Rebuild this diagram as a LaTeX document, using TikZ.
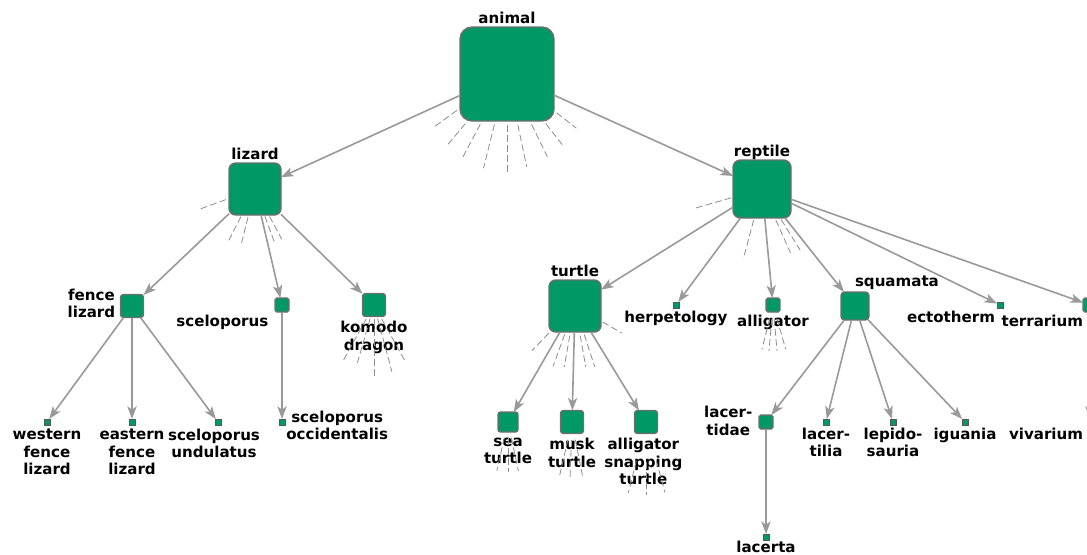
\documentclass[tikz,border=0pt]{standalone}
\usepackage{fontspec}
\setmainfont{DejaVu Sans}
\usetikzlibrary{arrows.meta,positioning,calc}
\definecolor{tgreen}{HTML}{009865}
\definecolor{tedge}{HTML}{999999}
\definecolor{tborder}{HTML}{6E6E6E}
\definecolor{tstub}{HTML}{8C8C8C}

\tikzset{
  cbox/.style={draw=tborder, line width=1.1pt, fill=tgreen, minimum size=#1,
    inner sep=0pt, outer sep=0pt, rounded corners=0.13*#1},
  leaf/.style={draw=tborder!80!black, line width=0.6pt, fill=tgreen,
    minimum size=4.5pt, inner sep=0pt, outer sep=0pt},
  lbl/.style={font=\fontsize{11.3pt}{13.1pt}\selectfont\bfseries, inner sep=0pt,
    outer sep=0pt, align=center, execute at begin node=\strut,
    execute at end node=\strut},
  link/.style={draw=tedge, line width=1.2pt,
    -{Stealth[length=9.5pt,width=7pt,inset=2.5pt]}},
  stub/.style={draw=tstub, line width=0.6pt, dash pattern=on 5pt off 2.5pt},
}

\begin{document}
\begin{tikzpicture}[x=0.75pt, y=-0.75pt]
\useasboundingbox (0,0) rectangle (1087,554);
% boxes (size = weight)
\node[cbox=70.5pt] (animal) at (507,74) {};
\node[cbox=39pt] (lizard) at (255,189) {};
\node[cbox=43.5pt] (reptile) at (762,189) {};
\node[cbox=17.25pt] (fencelizard) at (132,306) {};
\node[cbox=10.5pt] (sceloporus) at (282,305) {};
\node[cbox=17.25pt] (komodo) at (374,305) {};
\node[leaf] (western) at (47,422) {};
\node[leaf] (eastern) at (132,422) {};
\node[leaf] (undulatus) at (218,422) {};
\node[leaf] (occidentalis) at (282,422) {};
\node[cbox=39pt] (turtle) at (575,306) {};
\node[leaf] (herpetology) at (676,305) {};
\node[cbox=10.5pt] (alligator) at (773,305) {};
\node[cbox=21pt] (squamata) at (855,306) {};
\node[leaf] (ectotherm) at (1000,305) {};
\node[cbox=10.5pt] (terrarium) at (1090,305) {};
\node[leaf] (vivarium) at (1090,422) {};
\node[cbox=15pt] (seaturtle) at (508,422) {};
\node[cbox=17.25pt] (muskturtle) at (572,422) {};
\node[cbox=17.25pt] (snapping) at (646,422) {};
\node[cbox=10.5pt] (lacertidae) at (766,422) {};
\node[leaf] (lacertilia) at (826,422) {};
\node[leaf] (lepidosauria) at (893,422) {};
\node[leaf] (iguania) at (965,422) {};
\node[leaf] (lacerta) at (766,537) {};

% labels
\node[lbl, above=-1pt of animal] (animal-t) {animal};
\node[lbl, above=-1pt of lizard] (lizard-t) {lizard};
\node[lbl, above=-1pt of reptile] (reptile-t) {reptile};
\node[lbl, above=-1pt of turtle] (turtle-t) {turtle};
\node[lbl, left=4pt of fencelizard] (fencelizard-t) {fence\\lizard};
\node[lbl, below left=1.5pt and 5pt of sceloporus] (sceloporus-t) {sceloporus};
\node[lbl, below=3.5pt of komodo] (komodo-t) {komodo\\dragon};
\node[lbl, below=3pt of western] (western-t) {western\\fence\\lizard};
\node[lbl, below=3pt of eastern] (eastern-t) {eastern\\fence\\lizard};
\node[lbl, below=3pt of undulatus, xshift=-3pt] (undulatus-t) {sceloporus\\undulatus};
\node[lbl, right=1pt of occidentalis, yshift=-4.5pt] (occidentalis-t) {sceloporus\\occidentalis};
\node[lbl, below=2pt of herpetology] (herpetology-t) {herpetology};
\node[lbl, below=2pt of alligator] (alligator-t) {alligator};
\node[lbl, anchor=south west] (squamata-t) at (squamata.north) {squamata};
\node[lbl, below left=1.5pt and 1.5pt of ectotherm] (ectotherm-t) {ectotherm};
\node[lbl, below left=1.5pt and 0pt of terrarium] (terrarium-t) {terrarium};
\node[lbl, below left=1.5pt and 3pt of vivarium] (vivarium-t) {vivarium};
\node[lbl, below=4.5pt of seaturtle] (seaturtle-t) {sea\\turtle};
\node[lbl, below=3.5pt of muskturtle] (muskturtle-t) {musk\\turtle};
\node[lbl, below=3.5pt of snapping, xshift=-2pt] (snapping-t) {alligator\\snapping\\turtle};
\node[lbl, left=5pt of lacertidae, yshift=-1pt] (lacertidae-t) {lacer-\\tidae};
\node[lbl, below=2pt of lacertilia] (lacertilia-t) {lacer-\\tilia};
\node[lbl, below=2pt of lepidosauria] (lepidosauria-t) {lepido-\\sauria};
\node[lbl, below=2pt of iguania] (iguania-t) {iguania};
\node[lbl, below=0pt of lacerta] (lacerta-t) {lacerta};

% links
\draw[link] (animal) -- (lizard);
\draw[link] (animal) -- (reptile);
\draw[link] (lizard) -- (fencelizard);
\draw[link] (lizard) -- (sceloporus);
\draw[link] (lizard) -- (komodo);
\draw[link] (fencelizard) -- (western);
\draw[link] (fencelizard) -- (eastern);
\draw[link] (fencelizard) -- (undulatus);
\draw[link] (sceloporus) -- (occidentalis);
\draw[link] (reptile) -- (turtle);
\draw[link] (reptile) -- (herpetology);
\draw[link] (reptile) -- (alligator);
\draw[link] (reptile) -- (squamata);
\draw[link] (reptile) -- (ectotherm);
\draw[link] (reptile) -- (terrarium);
\draw[link] (terrarium) -- (vivarium);
\draw[link] (turtle) -- (seaturtle);
\draw[link] (turtle) -- (muskturtle);
\draw[link] (turtle) -- (snapping);
\draw[link] (squamata) -- (lacertidae);
\draw[link] (squamata) -- (lacertilia);
\draw[link] (squamata) -- (lepidosauria);
\draw[link] (squamata) -- (iguania);
\draw[link] (lacertidae) -- (lacerta);

% hidden children (angle/inner/outer)
\foreach \a/\r/\R in {38/63/88,52/63/90,64/56/92,78/52/95,90/51/99,104/52/97,118/57/94,130/65/93,144/62/91}
  \draw[stub] ($(animal)+(\a:\r)$) -- ($(animal)+(\a:\R)$);
\foreach \a/\r/\R in {160/31/61,117/31/59,104/29/59,70/29/58,62/31/57}
  \draw[stub] ($(lizard)+(\a:\r)$) -- ($(lizard)+(\a:\R)$);
\foreach \a/\r/\R in {164/32/70,105/32/72,66/34/70,58/36/72}
  \draw[stub] ($(reptile)+(\a:\r)$) -- ($(reptile)+(\a:\R)$);
\foreach \a/\r/\R in {61/16/63,75/14/69,90/14/72,106/14/60,119/16/63}
  \draw[stub] ($(komodo)+(\a:\r)$) -- ($(komodo)+(\a:\R)$);
\foreach \a/\r/\R in {104/14/46,95/14/46,85/14/46,74/14/46}
  \draw[stub] ($(alligator)+(\a:\r)$) -- ($(alligator)+(\a:\R)$);
\foreach \a/\r/\R in {134/38/62,110/30/64,100/30/62,80/30/62,72/30/64,30/32/54}
  \draw[stub] ($(turtle)+(\a:\r)$) -- ($(turtle)+(\a:\R)$);
\foreach \a/\r/\R in {103/16/50,90/16/50,78/16/50}
  \draw[stub] ($(seaturtle)+(\a:\r)$) -- ($(seaturtle)+(\a:\R)$);
\foreach \a/\r/\R in {103/18/55,92/18/55,79/18/55}
  \draw[stub] ($(muskturtle)+(\a:\r)$) -- ($(muskturtle)+(\a:\R)$);
\foreach \a/\r/\R in {104/40/73,90/40/73,75/40/73}
  \draw[stub] ($(snapping)+(\a:\r)$) -- ($(snapping)+(\a:\R)$);
\end{tikzpicture}
\end{document}
